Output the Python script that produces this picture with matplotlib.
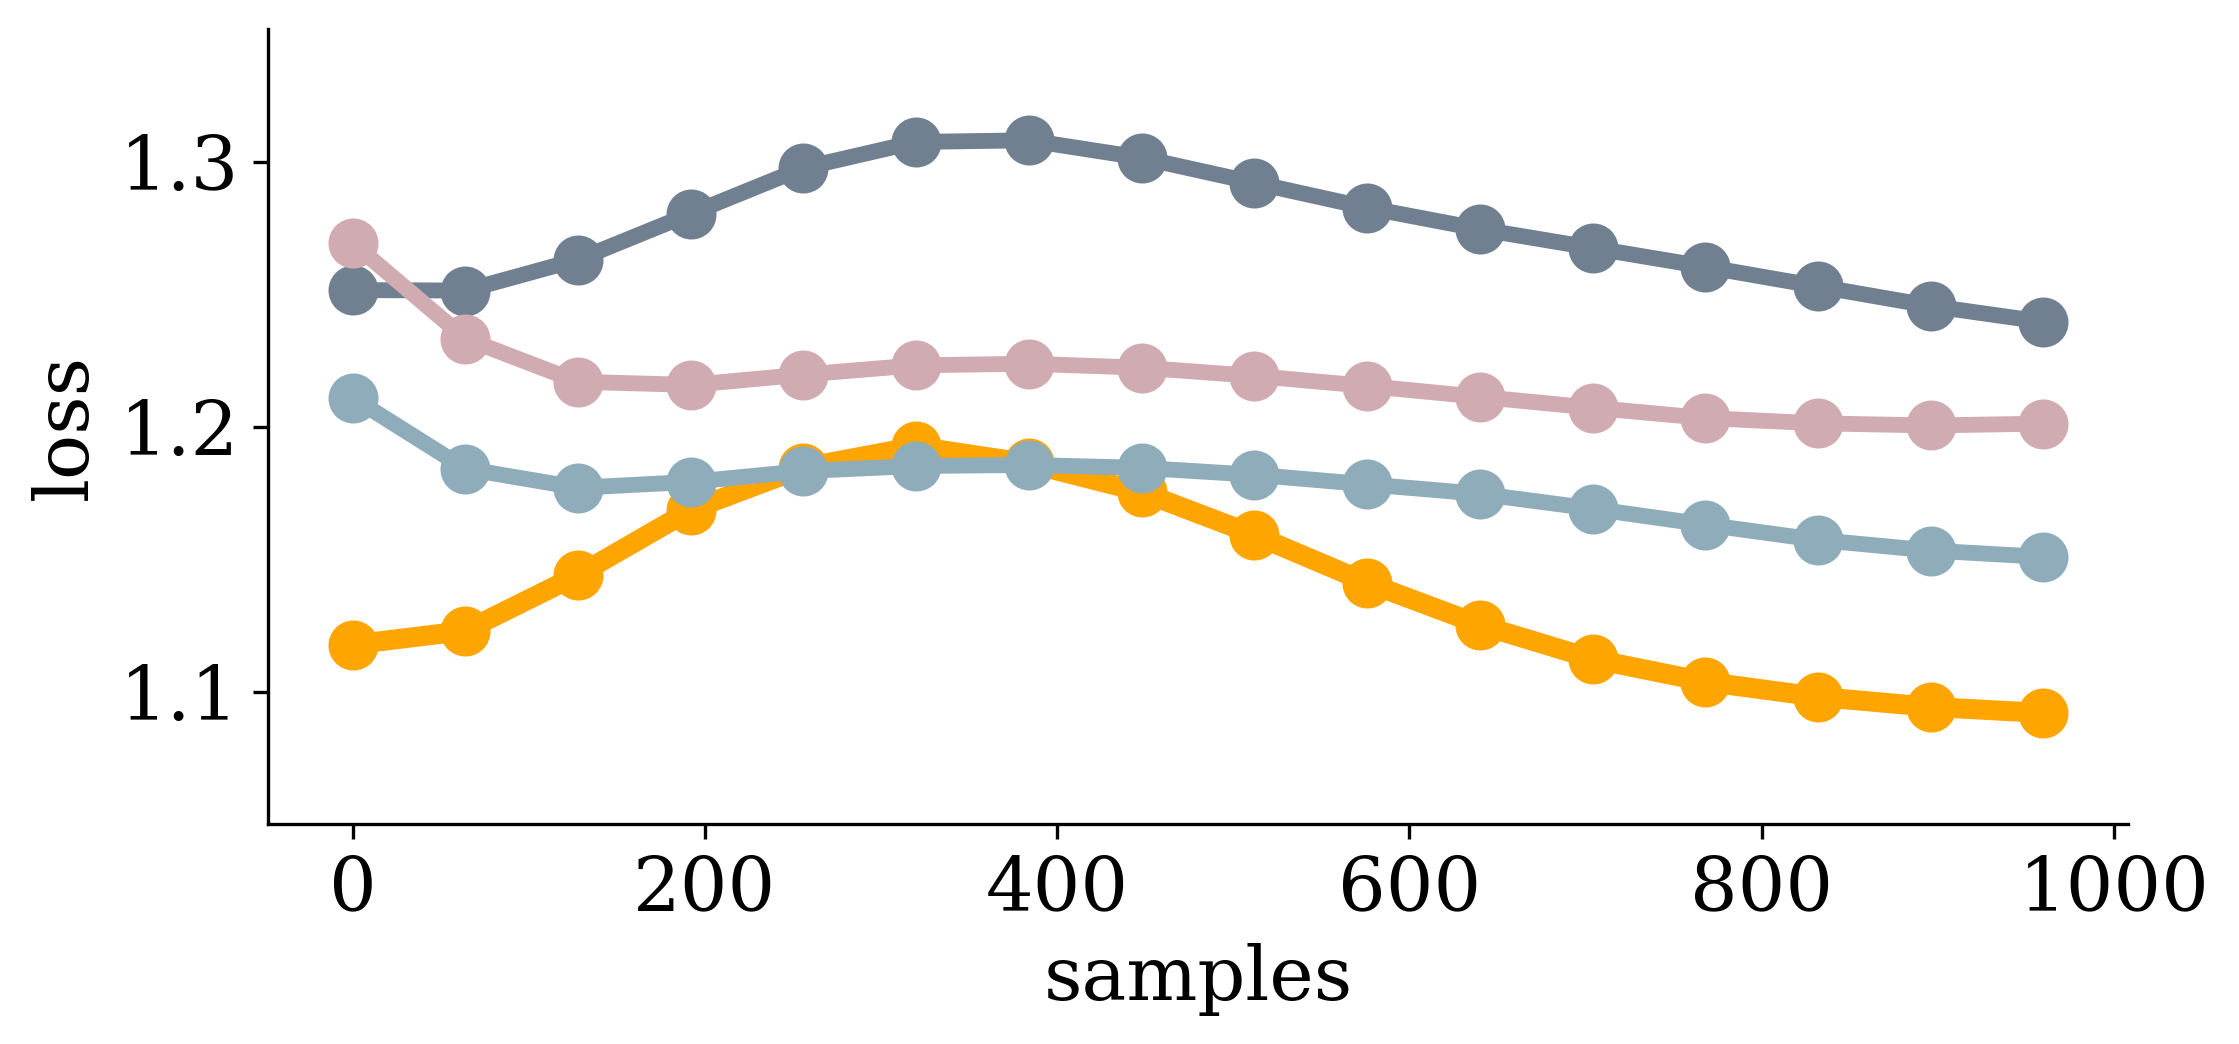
import numpy as np
import matplotlib
matplotlib.use("Agg")
import matplotlib.pyplot as plt

# samples seen at each evaluation
samples = [0, 64, 128, 192, 256, 320, 384, 448, 512, 576, 640, 704, 768, 832, 896, 960]

# loss curves
loss_slate = [1.2515, 1.2513, 1.2630, 1.2803, 1.2976, 1.3074, 1.3080, 1.3014, 1.2920, 1.2826,
              1.2745, 1.2674, 1.2603, 1.2529, 1.2455, 1.2395]
loss_pink = [1.2693, 1.2332, 1.2169, 1.2157, 1.2196, 1.2231, 1.2237, 1.2222, 1.2191, 1.2153,
             1.2112, 1.2071, 1.2032, 1.2012, 1.2004, 1.2011]
loss_orange = [1.1177, 1.1229, 1.1440, 1.1685, 1.1845, 1.1925, 1.1861, 1.1753, 1.1591, 1.1411,
               1.1252, 1.1123, 1.1037, 1.0980, 1.0942, 1.0919]
loss_blue = [1.2109, 1.1841, 1.1769, 1.1791, 1.1832, 1.1851, 1.1855, 1.1844, 1.1818, 1.1782,
             1.1746, 1.1690, 1.1630, 1.1572, 1.1532, 1.1508]

plt.rcParams["font.family"] = "serif"
plt.rcParams["font.serif"] = ["DejaVu Serif"]

fig = plt.figure(figsize=(2239 / 300, 1044 / 300), dpi=300)
ax = fig.add_axes([0.1197, 0.2107, 0.8307, 0.7615])

# Plot each curve
ax.plot(samples, loss_slate, "-o", color="#708090", lw=3.8, ms=11)
ax.plot(samples, loss_pink, "-o", color="#D0ABB2", lw=3.8, ms=11)
ax.plot(samples, loss_orange, "-o", color="#FFA500", lw=4.8, ms=11)
ax.plot(samples, loss_blue, "-o", color="#8FACBA", lw=3.8, ms=11)

ax.set_ylim(1.05, 1.35)
ax.set_yticks([1.1, 1.2, 1.3])
ax.set_xticks([0, 200, 400, 600, 800, 1000])

ax.set_xlabel("samples", fontsize=18)
ax.set_ylabel("loss", fontsize=18)
ax.tick_params(labelsize=18)

ax.spines["top"].set_visible(False)
ax.spines["right"].set_visible(False)

plt.savefig("out.png", dpi=300)
